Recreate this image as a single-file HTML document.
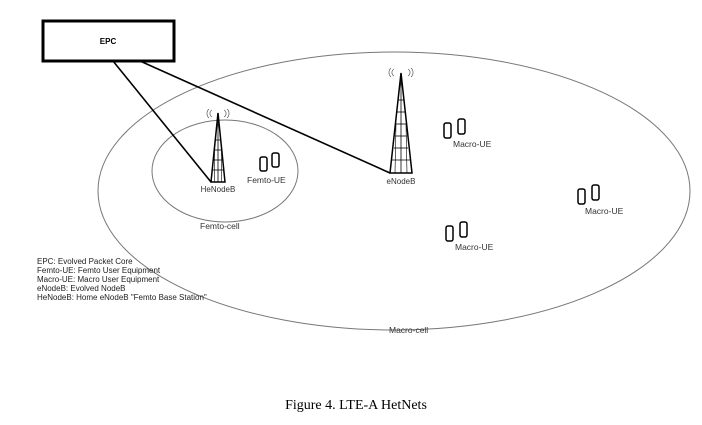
<!DOCTYPE html>
<html><head><meta charset="utf-8"><style>
html,body{margin:0;padding:0;background:#fff;}
svg{display:block;}
text{font-family:"Liberation Sans",sans-serif;}
</style></head><body>
<svg width="702" height="425" viewBox="0 0 702 425" xmlns="http://www.w3.org/2000/svg">
<rect width="702" height="425" fill="#fff"/>
<ellipse cx="394" cy="191" rx="296" ry="139" fill="none" stroke="#777" stroke-width="1"/>
<ellipse cx="225" cy="171" rx="73" ry="51" fill="none" stroke="#777" stroke-width="1"/>
<rect x="43" y="21" width="131" height="40" fill="#fff" stroke="#000" stroke-width="3"/>
<text x="108" y="44" font-size="8" font-weight="bold" text-anchor="middle">EPC</text>
<line x1="113" y1="61" x2="211" y2="182" stroke="#000" stroke-width="1.6"/>
<line x1="140" y1="61" x2="390" y2="173" stroke="#000" stroke-width="1.6"/>
<g stroke="#000" fill="none">
<path d="M218 113 L211 182 L225 182 Z" stroke-width="1.5"/>
<line x1="218" y1="113" x2="218" y2="182" stroke-width="0.8"/>
<line x1="215" y1="140" x2="221" y2="140" stroke-width="0.8"/>
<line x1="214" y1="150" x2="222" y2="150" stroke-width="0.8"/>
<line x1="213" y1="160" x2="223" y2="160" stroke-width="0.8"/>
<line x1="212" y1="170" x2="224" y2="170" stroke-width="0.8"/>
<line x1="214.5" y1="150" x2="214.5" y2="182" stroke-width="0.6"/>
<line x1="221.5" y1="150" x2="221.5" y2="182" stroke-width="0.6"/>
<path d="M212 110 a4 4 0 0 0 0 7 M209 109 a6 6 0 0 0 0 9 M224 110 a4 4 0 0 1 0 7 M227 109 a6 6 0 0 1 0 9" stroke-width="0.7" stroke="#555"/>
</g>
<text x="218" y="192" font-size="8" text-anchor="middle" fill="#333">HeNodeB</text>
<g stroke="#000" fill="none">
<path d="M401 73 L390 173 L412 173 Z" stroke-width="1.5"/>
<line x1="401" y1="73" x2="401" y2="173" stroke-width="0.8"/>
<line x1="398" y1="100" x2="404" y2="100" stroke-width="0.8"/>
<line x1="397" y1="112" x2="405" y2="112" stroke-width="0.8"/>
<line x1="396" y1="124" x2="406" y2="124" stroke-width="0.8"/>
<line x1="395" y1="136" x2="407" y2="136" stroke-width="0.8"/>
<line x1="394" y1="148" x2="408" y2="148" stroke-width="0.8"/>
<line x1="392" y1="160" x2="410" y2="160" stroke-width="0.8"/>
<line x1="396" y1="124" x2="395" y2="173" stroke-width="0.6"/>
<line x1="406" y1="124" x2="407" y2="173" stroke-width="0.6"/>
<path d="M394 69 a4 4 0 0 0 0 7 M391 68 a6 6 0 0 0 0 9 M408 69 a4 4 0 0 1 0 7 M411 68 a6 6 0 0 1 0 9" stroke-width="0.7" stroke="#555"/>
</g>
<text x="401" y="184" font-size="8" text-anchor="middle" fill="#333">eNodeB</text>
<g fill="none" stroke="#000" stroke-width="1.5">
<rect x="260" y="157" width="7" height="14" rx="2"/><rect x="272" y="153" width="7" height="14" rx="2"/>
<rect x="444" y="123" width="7" height="15" rx="2"/><rect x="458" y="119" width="7" height="15" rx="2"/>
<rect x="578" y="189" width="7" height="15" rx="2"/><rect x="592" y="185" width="7" height="15" rx="2"/>
<rect x="446" y="226" width="7" height="15" rx="2"/><rect x="460" y="222" width="7" height="15" rx="2"/>
</g>
<g font-size="8.5" fill="#333">
<text x="247" y="183">Femto-UE</text>
<text x="453" y="147">Macro-UE</text>
<text x="585" y="214">Macro-UE</text>
<text x="455" y="250">Macro-UE</text>
<text x="200" y="229">Femto-cell</text>
<text x="389" y="333">Macro-cell</text>
</g>
<g font-size="8" fill="#222">
<text x="37" y="264">EPC: Evolved Packet Core</text>
<text x="37" y="273">Femto-UE: Femto User Equipment</text>
<text x="37" y="282">Macro-UE: Macro User Equipment</text>
<text x="37" y="291">eNodeB: Evolved NodeB</text>
<text x="37" y="300">HeNodeB: Home eNodeB "Femto Base Station"</text>
</g>
<text x="356" y="409" font-size="14" text-anchor="middle" style="font-family:'Liberation Serif',serif">Figure 4. LTE-A HetNets</text>
</svg>
</body></html>
